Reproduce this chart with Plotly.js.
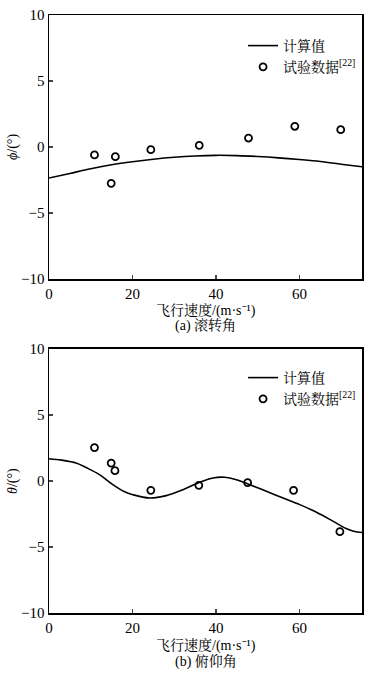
<!DOCTYPE html>
<html><head><meta charset="utf-8">
<script src="https://cdn.plot.ly/plotly-3.0.1.min.js"></script>
<style>body{margin:0;background:#fff}#c{width:378px;height:679px}</style>
</head><body><div id="c"></div>
<script>
// Roll angle (a)
const rollCalcX = [0,5,10,15,20,25,30,35,40,45,50,55,60,65,70,75];
const rollCalcY = [-2.35,-2.0,-1.65,-1.35,-1.12,-0.93,-0.78,-0.68,-0.63,-0.65,-0.72,-0.82,-0.95,-1.1,-1.3,-1.5];
const rollExpX = [10.9,14.9,15.9,24.4,36.0,47.8,58.9,69.9];
const rollExpY = [-0.6,-2.75,-0.73,-0.2,0.13,0.68,1.57,1.31];
// Pitch angle (b)
const pitchCalcX = [0,3,6.5,9,12.1,15.3,18,20.1,24.1,28.1,32.1,36.1,39.3,42.1,44.9,48.1,52.1,56.1,60.1,64.1,68.1,71.2,73,75];
const pitchCalcY = [1.69,1.58,1.36,1.0,0.48,-0.28,-0.8,-1.04,-1.29,-1.11,-0.66,-0.1,0.23,0.28,0.1,-0.28,-0.78,-1.29,-1.79,-2.37,-3.06,-3.6,-3.8,-3.9];
const pitchExpX = [10.9,14.9,15.8,24.4,35.9,47.6,58.6,69.7];
const pitchExpY = [2.53,1.36,0.78,-0.71,-0.33,-0.13,-0.71,-3.84];

const xTicks = [0,20,40,60];
const yTicks = [-10,-5,0,5,10];
const yTickText = ['\u221210','\u22125','0','5','10'];
const calcName = '计算值';
const expName = '试验数据<sup>[22]</sup>';
const xTitle = '飞行速度/(m\u00b7s\u207b\u00b9)';
const capA = '(a) 滚转角';
const capB = '(b) 俯仰角';

const FONT = 'Liberation Serif, Times New Roman, Noto Serif CJK SC, Noto Sans CJK SC, serif';
const lineStyle = {color:'#000', width:1.6};
const mk = {symbol:'circle-open', size:7, color:'#000', line:{width:1.8, color:'#000'}};

const traces = [
  {x:rollCalcX, y:rollCalcY, mode:'lines', line:{...lineStyle, shape:'spline'}, name:calcName, xaxis:'x', yaxis:'y', legend:'legend'},
  {x:rollExpX, y:rollExpY, mode:'markers', marker:mk, name:expName, xaxis:'x', yaxis:'y', legend:'legend'},
  {x:pitchCalcX, y:pitchCalcY, mode:'lines', line:{...lineStyle, shape:'spline'}, name:calcName, xaxis:'x2', yaxis:'y2', legend:'legend2'},
  {x:pitchExpX, y:pitchExpY, mode:'markers', marker:mk, name:expName, xaxis:'x2', yaxis:'y2', legend:'legend2'}
];

const xa = {range:[0,75], tickvals:xTicks, ticks:'inside', ticklen:4, tickwidth:1.2, showline:true, mirror:true, linecolor:'#000', linewidth:1.5, showgrid:false, zeroline:false, tickfont:{family:FONT, size:15, color:'#000'}};
const ya = {range:[-10,10], tickvals:yTicks, ticktext:yTickText, ticks:'inside', ticklen:4, tickwidth:1.2, showline:true, mirror:true, linecolor:'#000', linewidth:1.5, showgrid:false, zeroline:false, tickfont:{family:FONT, size:15, color:'#000'}};

function py(p){ return (613 - p)/598; }
const ann = (t, y, extra) => Object.assign({text:t, xref:'paper', yref:'paper', x:0.5, y:py(y), xanchor:'center', yanchor:'middle', showarrow:false, font:{family:FONT, size:14, color:'#000'}}, extra||{});

const legBase = {bgcolor:'rgba(0,0,0,0)', borderwidth:0, font:{family:FONT, size:14, color:'#000'}, xanchor:'left', yanchor:'top', tracegroupgap:0, itemwidth:30};

const layout = {
  width:378, height:679,
  margin:{l:49, r:16, t:15, b:66},
  paper_bgcolor:'#fff', plot_bgcolor:'#fff',
  font:{family:FONT, color:'#000'},
  xaxis:{...xa, domain:[0,1], anchor:'y'},
  yaxis:{...ya, domain:[0.5585,1], anchor:'x'},
  xaxis2:{...xa, domain:[0,1], anchor:'y2'},
  yaxis2:{...ya, domain:[0,0.4415], anchor:'x2'},
  legend:{...legBase, x:0.62, y:py(30)},
  legend2:{...legBase, x:0.62, y:py(362)},
  annotations:[
    ann(xTitle, 310),
    ann(capA, 326),
    ann(xTitle, 645),
    ann(capB, 662),
    ann('<i>ϕ</i>/(°)', 147, {x:-0.115, textangle:-90, xref:'paper'}),
    ann('<i>θ</i>/(°)', 481, {x:-0.115, textangle:-90, xref:'paper'})
  ],
  showlegend:true
};

Plotly.newPlot('c', traces, layout, {staticPlot:true, displayModeBar:false});
</script>
</body></html>
